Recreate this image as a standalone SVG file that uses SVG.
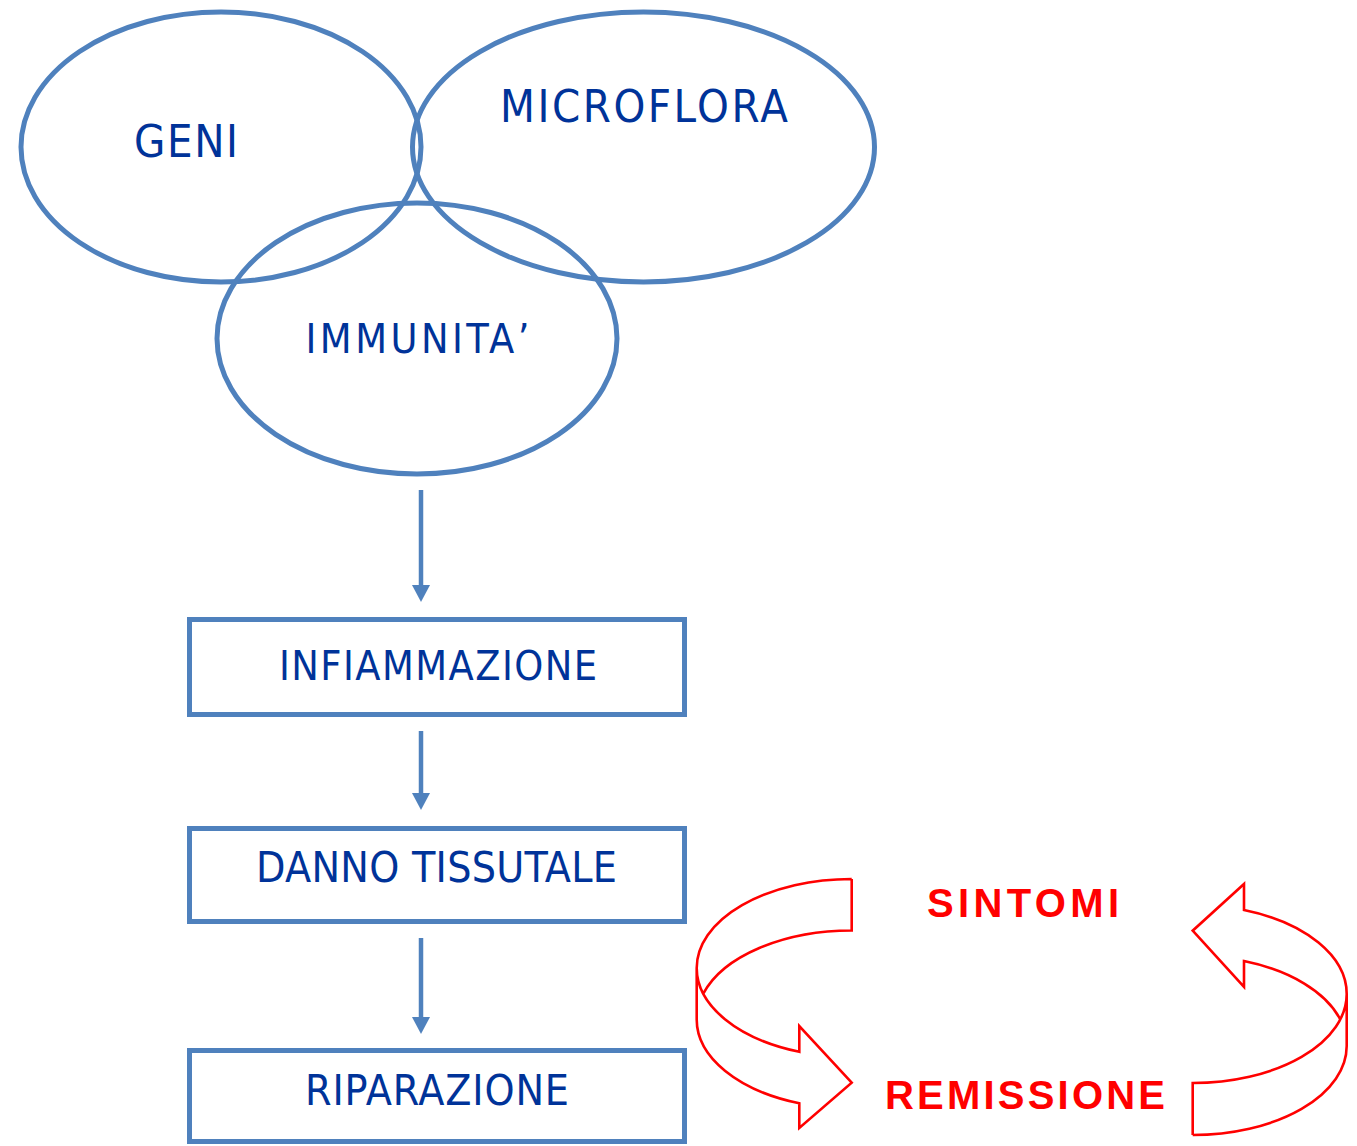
<svg xmlns="http://www.w3.org/2000/svg" width="1357" height="1146" viewBox="0 0 1357 1146">
<style>
.ell{fill:none;stroke:#4F81BD;stroke-width:5}
.box{fill:#fff;stroke:#4F81BD;stroke-width:5}
.lbl{font-family:"DejaVu Sans Condensed","DejaVu Sans","Liberation Sans",sans-serif;font-stretch:condensed;fill:#003399;text-anchor:middle}
.red{font-family:"Liberation Sans",Arial,sans-serif;font-weight:bold;fill:#FF0000;text-anchor:middle;font-size:40px}
.conn{stroke:#4F81BD;stroke-width:4.5;fill:none}
.ra{fill:#fff;stroke:#FF0000;stroke-width:2.6;stroke-linejoin:miter}
</style>
<defs>
<marker id="ah" markerUnits="userSpaceOnUse" viewBox="0 0 17 18" refX="0" refY="9" markerWidth="17" markerHeight="18" orient="auto">
<path d="M0,0 L17,9 L0,18 z" fill="#4F81BD"/>
</marker>
</defs>
<rect width="1357" height="1146" fill="#fff"/>
<g id="geni">
<ellipse class="ell" cx="221" cy="147" rx="200" ry="135"/>
<text class="lbl" x="186" y="157" font-size="45" textLength="104" lengthAdjust="spacing">GENI</text>
</g>
<g id="microflora">
<ellipse class="ell" cx="643.5" cy="147" rx="231" ry="135"/>
<text class="lbl" x="644" y="122" font-size="45" textLength="288" lengthAdjust="spacing">MICROFLORA</text>
</g>
<g id="immunita">
<ellipse class="ell" cx="417" cy="338.5" rx="200" ry="135.5"/>
<text class="lbl" x="417.5" y="353" font-size="41" textLength="224" lengthAdjust="spacing">IMMUNITA’</text>
</g>
<g id="infiammazione">
<rect class="box" x="189.5" y="619.5" width="495" height="95"/>
<text class="lbl" x="438" y="680" font-size="41" textLength="318" lengthAdjust="spacing">INFIAMMAZIONE</text>
</g>
<g id="danno">
<rect class="box" x="189.5" y="828.5" width="495" height="93"/>
<text class="lbl" x="436.5" y="882" font-size="42.5" textLength="361" lengthAdjust="spacing">DANNO TISSUTALE</text>
</g>
<g id="riparazione">
<rect class="box" x="189.5" y="1050.5" width="495" height="91"/>
<text class="lbl" x="437" y="1105" font-size="42.5" textLength="264" lengthAdjust="spacing">RIPARAZIONE</text>
</g>
<g id="connectors">
<line class="conn" x1="421" y1="490" x2="421" y2="585" marker-end="url(#ah)"/>
<line class="conn" x1="421" y1="731" x2="421" y2="793" marker-end="url(#ah)"/>
<line class="conn" x1="421" y1="938" x2="421" y2="1017" marker-end="url(#ah)"/>
</g>
<g id="sintomi">
<text class="red" x="1023" y="917" textLength="192" lengthAdjust="spacing">SINTOMI</text>
</g>
<g id="remissione">
<text class="red" x="1025" y="1109" textLength="280" lengthAdjust="spacing">REMISSIONE</text>
</g>
<g id="cycle-arrow-left">
<path class="ra" d="M851.7,879 A155,89 0 0 0 696.7,968 L696.7,1019.5 A155,89 0 0 0 799.3,1103.3 L799.3,1128 L851.7,1082.7 L799.3,1026 L799.3,1051.8 A155,89 0 0 1 696.7,968 M851.7,879 L851.7,930.5 A155,89 0 0 0 703.3,993.7"/>
</g>
<g id="cycle-arrow-right">
<path class="ra" d="M1192.7,1135 A154,89 0 0 0 1346.7,1046 L1346.7,994 A154,89 0 0 0 1244,910 L1244,884 L1192.7,930.7 L1244,987 L1244,961 A154,89 0 0 1 1340.3,1019.5 M1192.7,1135 L1192.7,1083 A154,89 0 0 0 1346.7,994"/>
</g>
</svg>
